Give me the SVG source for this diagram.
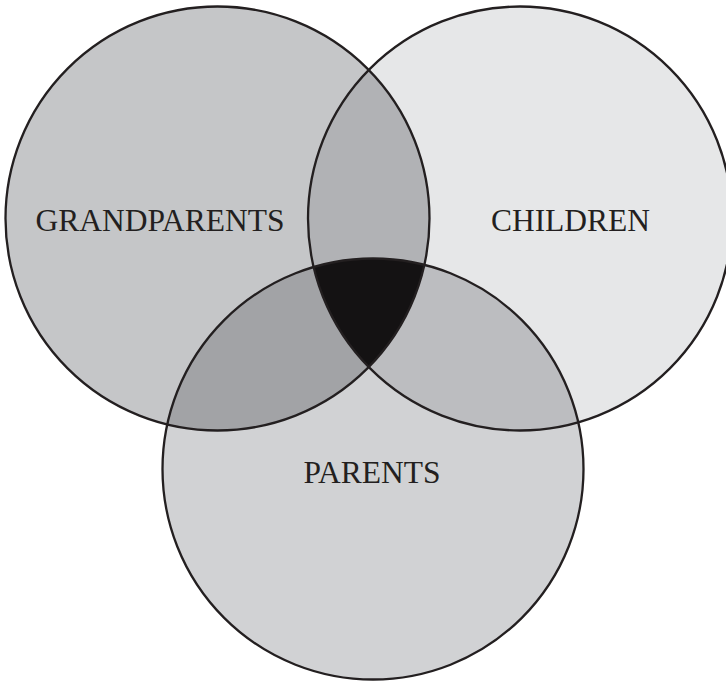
<svg xmlns="http://www.w3.org/2000/svg" width="726" height="682" viewBox="0 0 726 682">
<style>
.lbl{font-family:"Liberation Serif","Times New Roman",serif;font-size:31.5px;fill:#231f20;text-anchor:middle}
.ring{fill:none;stroke:#231f20;stroke-width:2.3}
</style>
<defs>
<clipPath id="cL"><circle cx="217.5" cy="218.5" r="212"/></clipPath>
<clipPath id="cR"><circle cx="520" cy="218.5" r="212"/></clipPath>
<clipPath id="cB"><circle cx="373" cy="469" r="210.5"/></clipPath>
</defs>
<rect width="726" height="682" fill="#ffffff"/>
<g id="grandparents">
<circle cx="217.5" cy="218.5" r="212" fill="#c5c6c8"/>
</g>
<g id="children">
<circle cx="520" cy="218.5" r="212" fill="#e6e7e8"/>
</g>
<g id="parents">
<circle cx="373" cy="469" r="210.5" fill="#d1d2d4"/>
</g>
<g id="overlaps">
<circle cx="520" cy="218.5" r="212" fill="#b1b2b5" clip-path="url(#cL)"/>
<circle cx="373" cy="469" r="210.5" fill="#a2a3a6" clip-path="url(#cL)"/>
<circle cx="373" cy="469" r="210.5" fill="#bcbdc0" clip-path="url(#cR)"/>
<g clip-path="url(#cR)"><circle cx="373" cy="469" r="210.5" fill="#141213" clip-path="url(#cL)"/></g>
</g>
<g id="outlines">
<circle class="ring" cx="217.5" cy="218.5" r="212"/>
<circle class="ring" cx="520" cy="218.5" r="212"/>
<circle class="ring" cx="373" cy="469" r="210.5"/>
</g>
<g id="labels">
<text class="lbl" x="160" y="230.5">GRANDPARENTS</text>
<text class="lbl" x="570.5" y="230.5">CHILDREN</text>
<text class="lbl" x="372" y="483">PARENTS</text>
</g>
</svg>
